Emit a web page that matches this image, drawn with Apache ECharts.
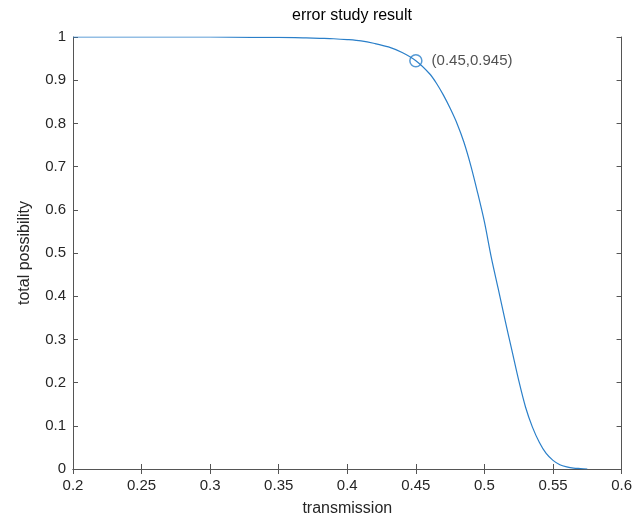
<!DOCTYPE html>
<html>
<head>
<meta charset="utf-8">
<script src="https://cdn.jsdelivr.net/npm/echarts@6/dist/echarts.min.js"></script>
<style>html,body{margin:0;padding:0;background:#fff}#c{width:635px;height:522px}</style>
</head>
<body>
<div id="c"></div>
<script>
const titleText = 'error study result';
const xName = 'transmission';
const yName = 'total possibility';
const transmission = [0.2, 0.25, 0.3, 0.33, 0.35, 0.37, 0.38, 0.39, 0.40, 0.41, 0.42, 0.43, 0.44, 0.45, 0.46, 0.465, 0.47, 0.475, 0.48, 0.485, 0.49, 0.495, 0.5, 0.505, 0.51, 0.515, 0.52, 0.525, 0.53, 0.535, 0.54, 0.545, 0.55, 0.555, 0.56, 0.565, 0.57, 0.575];
const possibility = [1, 1, 1, 0.999, 0.999, 0.998, 0.997, 0.996, 0.994, 0.991, 0.985, 0.977, 0.964, 0.945, 0.915, 0.893, 0.866, 0.835, 0.800, 0.757, 0.703, 0.640, 0.572, 0.490, 0.418, 0.345, 0.275, 0.205, 0.143, 0.097, 0.062, 0.036, 0.020, 0.010, 0.005, 0.002, 0.001, 0];
const markPoint = [0.45, 0.945];
const markLabel = '(0.45,0.945)';

const font = 'Liberation Sans, Arial, Helvetica, sans-serif';
const axisColor = '#555555';
const textColor = '#262626';
const lineColor = '#2a7fc9';

const chart = echarts.init(document.getElementById('c'), null, {renderer: 'canvas'});
const xCommon = {type: 'value', min: 0.2, max: 0.6, interval: 0.05,
  axisLine: {show: true, lineStyle: {color: axisColor, width: 1}},
  axisTick: {show: true, inside: true, length: 5, lineStyle: {color: axisColor}},
  splitLine: {show: false}};
const yCommon = {type: 'value', min: 0, max: 1, interval: 0.1,
  axisLine: {show: true, lineStyle: {color: axisColor, width: 1}},
  axisTick: {show: true, inside: true, length: 5, lineStyle: {color: axisColor}},
  splitLine: {show: false}};
chart.setOption({
  animation: false,
  backgroundColor: '#fff',
  title: {text: titleText, left: 347, top: 3, textAlign: 'center',
    textStyle: {fontFamily: font, fontSize: 16, fontWeight: 'normal', color: '#000'}},
  grid: {left: 73, right: 13, top: 37, bottom: 52, containLabel: false},
  xAxis: [
    Object.assign({}, xCommon, {position: 'bottom', name: xName, nameLocation: 'middle', nameGap: 32,
      nameTextStyle: {fontFamily: font, fontSize: 16, color: textColor},
      axisLabel: {fontFamily: font, fontSize: 15, color: textColor, margin: 9,
        formatter: v => String(parseFloat(v.toFixed(2)))}}),
    Object.assign({}, xCommon, {position: 'top', axisLabel: {show: false}})
  ],
  yAxis: [
    Object.assign({}, yCommon, {position: 'left', name: yName, nameLocation: 'middle', nameGap: 40,
      nameTextStyle: {fontFamily: font, fontSize: 16, color: textColor},
      axisLabel: {fontFamily: font, fontSize: 15, color: textColor, margin: 7,
        formatter: v => String(parseFloat(v.toFixed(1)))}}),
    Object.assign({}, yCommon, {position: 'right', axisLabel: {show: false}})
  ],
  series: [
    {type: 'line', xAxisIndex: 0, yAxisIndex: 0, showSymbol: false, smooth: 0.3,
      lineStyle: {color: lineColor, width: 1.2},
      data: transmission.map((x, i) => [x, possibility[i]])},
    {type: 'scatter', xAxisIndex: 0, yAxisIndex: 0, symbol: 'circle', symbolSize: 12, z: 5,
      itemStyle: {color: 'rgba(255,255,255,0)', borderColor: lineColor, borderWidth: 1.5},
      label: {show: true, position: 'right', distance: 9, formatter: markLabel,
        fontFamily: font, fontSize: 15, color: textColor},
      data: [markPoint]}
  ]
});
</script>
</body>
</html>
